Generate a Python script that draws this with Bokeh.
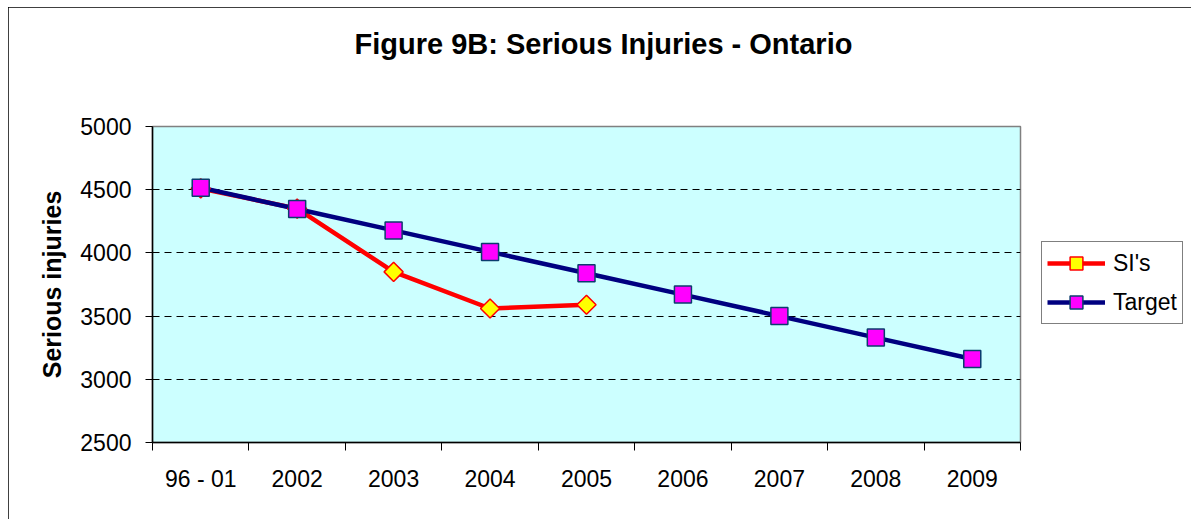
from bokeh.plotting import figure
from bokeh.models import (FixedTicker, Legend, LegendItem, ColumnDataSource, Title)
from bokeh.embed import file_html
from bokeh.resources import INLINE
import numpy as np

categories = ["96 - 01", "2002", "2003", "2004", "2005", "2006", "2007", "2008", "2009"]
si_values = [4510, 4350, 3850, 3560, 3590]
target_values = [4516, 4347, 4178, 4008, 3839, 3670, 3500, 3330, 3161]
y_ticks = [2500, 3000, 3500, 4000, 4500, 5000]
grid_ticks = [3000, 3500, 4000, 4500]

FONT = "Liberation Sans"

x_pos = [i + 0.5 for i in range(len(categories))]
si_src = ColumnDataSource(dict(x=x_pos[:len(si_values)], y=si_values))
tg_src = ColumnDataSource(dict(x=x_pos, y=target_values))

p = figure(frame_width=868, frame_height=316,
           x_range=(0, len(categories)), y_range=(2500, 5000),
           output_backend="svg", toolbar_location=None,
           min_border_left=144, min_border_right=171,
           min_border_top=119, min_border_bottom=77)

p.styles = {"margin-left": "8px", "margin-top": "7px",
            "outline": "1px solid black", "outline-offset": "-1px"}

# spacer panel between frame and title (pushes the title upward)
spacer = Title(text=" ", text_font_size="20px", standoff=43)
p.add_layout(spacer, "above")

p.title.text = "Figure 9B: Serious Injuries - Ontario"
p.title.text_font = FONT
p.title.text_font_size = "29px"
p.title.text_font_style = "bold"
p.title.text_color = "black"
p.title.align = "left"
p.title.offset = 202
p.title.standoff = 0

p.background_fill_color = "#CCFFFF"
p.border_fill_color = "white"
p.outline_line_color = "#808080"
p.outline_line_width = 1.5

# Axes
xa = p.xaxis[0]
xa.ticker = FixedTicker(ticks=x_pos, minor_ticks=list(range(len(categories) + 1)))
xa.major_label_overrides = {x: c for x, c in zip(x_pos, categories)}
xa.major_tick_out = 0
xa.major_tick_in = 0
xa.minor_tick_out = 8
xa.minor_tick_in = 0
xa.minor_tick_line_color = "black"
xa.axis_line_color = "black"
xa.axis_line_width = 1.5
xa.major_label_text_font = FONT
xa.major_label_text_font_size = "23px"
xa.major_label_text_color = "black"
xa.major_label_standoff = 15

ya = p.yaxis[0]
ya.ticker = FixedTicker(ticks=y_ticks)
ya.major_tick_out = 7
ya.major_tick_in = 0
ya.minor_tick_out = 0
ya.minor_tick_in = 0
ya.major_tick_line_color = "black"
ya.axis_line_color = "black"
ya.axis_line_width = 1.5
ya.major_label_text_font = FONT
ya.major_label_text_font_size = "23px"
ya.major_label_text_color = "black"
ya.major_label_standoff = 14
ya.axis_label = "Serious injuries"
ya.axis_label_text_font = FONT
ya.axis_label_text_font_size = "25px"
ya.axis_label_text_font_style = "bold"
ya.axis_label_text_color = "black"
ya.axis_label_standoff = 11

p.xgrid.visible = False
p.ygrid.ticker = FixedTicker(ticks=grid_ticks)
p.ygrid.grid_line_color = "black"
p.ygrid.grid_line_dash = "7 5"
p.ygrid.grid_line_width = 1

# Series
si_line = p.line("x", "y", source=si_src, line_color="#FF0000", line_width=4.5)
tg_line = p.line("x", "y", source=tg_src, line_color="#000080", line_width=4.5)
si_mark = p.scatter("x", "y", source=si_src, marker="square", angle=np.pi / 4, size=13.5,
                    fill_color="#FFFF00", line_color="#FF0000", line_width=1.5)
tg_mark = p.scatter("x", "y", source=tg_src, marker="square", size=17,
                    fill_color="#FF00FF", line_color="#0B3C6E", line_width=1.5)

legend = Legend(items=[LegendItem(label="SI's", renderers=[si_line, si_mark]),
                       LegendItem(label="Target", renderers=[tg_line, tg_mark])],
                location=(21, 118), orientation="vertical",
                glyph_width=58, glyph_height=32, label_standoff=8,
                padding=5, spacing=7, margin=0,
                label_text_font=FONT, label_text_font_size="23px",
                label_text_color="black",
                border_line_color="black", border_line_width=1,
                background_fill_color="white", background_fill_alpha=1)
p.add_layout(legend, "right")

open("out.html", "w").write(file_html(p, INLINE))
